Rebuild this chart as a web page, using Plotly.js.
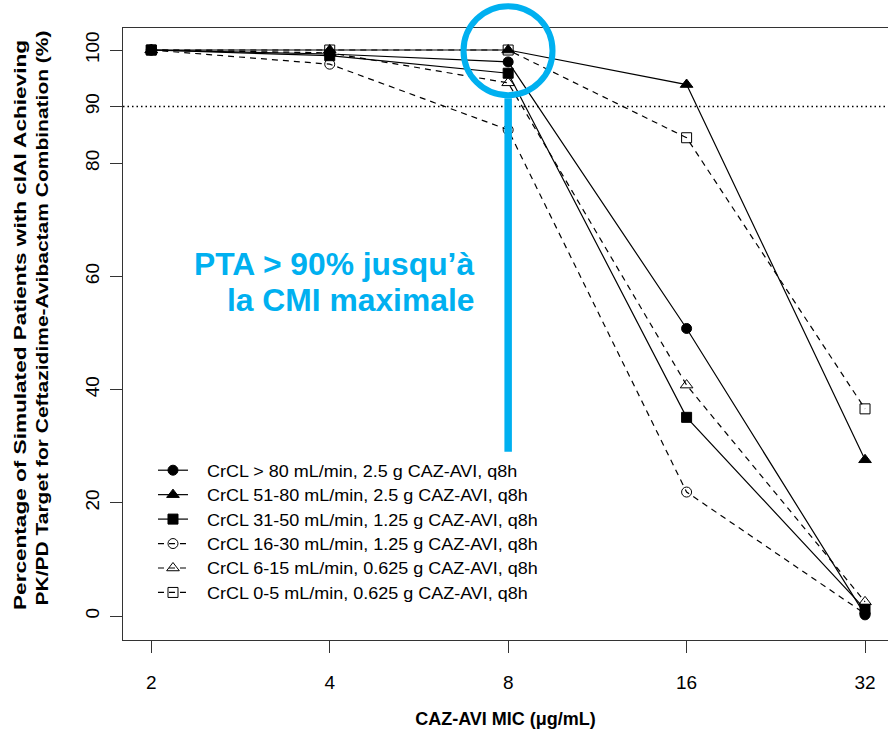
<!DOCTYPE html>
<html>
<head>
<meta charset="utf-8">
<script src="https://cdn.plot.ly/plotly-3.0.1.min.js"></script>
<style>html,body{margin:0;padding:0;background:#fff;overflow:hidden}#chart{width:888px;height:732px}</style>
</head>
<body>
<div id="chart"></div>
<script>
var mic = [2, 4, 8, 16, 32];
var micLabels = ['2', '4', '8', '16', '32'];
var seriesNames = [
  'CrCL > 80 mL/min, 2.5 g CAZ-AVI, q8h',
  'CrCL 51-80 mL/min, 2.5 g CAZ-AVI, q8h',
  'CrCL 31-50 mL/min, 1.25 g CAZ-AVI, q8h',
  'CrCL 16-30 mL/min, 1.25 g CAZ-AVI, q8h',
  'CrCL 6-15 mL/min, 0.625 g CAZ-AVI, q8h',
  'CrCL 0-5 mL/min, 0.625 g CAZ-AVI, q8h'
];
var crcl80plus = [100, 99.3, 97.9, 50.8, 0.2];
var crcl51to80 = [100, 100, 100, 93.9, 27.6];
var crcl31to50 = [100, 99.0, 95.9, 35.1, 1.2];
var crcl16to30 = [100, 97.5, 85.9, 21.9, 0.4];
var crcl6to15  = [100, 99.5, 94.2, 40.8, 2.5];
var crcl0to5   = [100, 100, 100, 84.5, 36.6];
var yTicks = [0, 20, 40, 60, 80, 90, 100];
var targetPTA = 90;
var highlightMIC = 8;

var arial = '"Liberation Sans", Arial, sans-serif';
var blue = '#00B0F0';

var styles = [
  {symbol: 'circle', size: 10, dash: 'solid'},
  {symbol: 'triangle-up', size: 11, dash: 'solid'},
  {symbol: 'square', size: 10, dash: 'solid'},
  {symbol: 'circle-open', size: 10, dash: '6px,5px'},
  {symbol: 'triangle-up-open', size: 11, dash: '6px,5px'},
  {symbol: 'square-open', size: 10, dash: '6px,5px'}
];
var allY = [crcl80plus, crcl51to80, crcl31to50, crcl16to30, crcl6to15, crcl0to5];

var traces = allY.map(function (ys, i) {
  return {
    x: mic, y: ys, name: seriesNames[i], type: 'scatter', mode: 'lines+markers',
    line: {color: '#000', width: 1.2, dash: styles[i].dash},
    marker: {symbol: styles[i].symbol, size: styles[i].size, color: '#000', line: {color: '#000', width: 1}}
  };
});

var layout = {
  width: 888, height: 732,
  margin: {l: 123, r: 0, t: 28, b: 92},
  paper_bgcolor: '#fff', plot_bgcolor: '#fff',
  showlegend: true,
  legend: {
    x: 0.0575, y: 0.3056, xanchor: 'left', yanchor: 'top',
    bgcolor: 'rgba(0,0,0,0)', borderwidth: 0,
    font: {family: arial, size: 16.5, color: '#000'},
    tracegroupgap: 0
  },
  xaxis: {
    type: 'log', range: [0.2533, 1.5439],
    tickmode: 'array', tickvals: mic, ticktext: micLabels,
    ticks: 'outside', ticklen: 12, tickwidth: 1, tickcolor: '#333',
    showline: true, linecolor: '#333', linewidth: 1.2, mirror: true,
    showgrid: false, zeroline: false, ticklabelstandoff: 13,
    tickfont: {family: arial, size: 19, color: '#000'},
    title: {text: '<b>CAZ-AVI MIC (\u03BCg/mL)</b>', font: {family: arial, size: 18, color: '#000'}, standoff: 20}
  },
  yaxis: {
    range: [-4.24, 103.89],
    tickmode: 'array', tickvals: yTicks,
    ticks: 'outside', ticklen: 12, tickwidth: 1, tickcolor: '#333',
    showline: true, linecolor: '#333', linewidth: 1.2, mirror: false,
    showgrid: false, zeroline: false, tickangle: -90, ticklabelstandoff: 3,
    tickfont: {family: arial, size: 19, color: '#000'},
    title: {text: '<b>Percentage of Simulated Patients with cIAI Achieving<br>PK/PD Target for Ceftazidime-Avibactam Combination (%)</b>',
            font: {family: arial, size: 17, color: '#000'}, standoff: 29}
  },
  shapes: [
    {type: 'line', xref: 'paper', yref: 'y', x0: 0, x1: 1, y0: targetPTA, y1: targetPTA,
     line: {color: '#000', width: 1.5, dash: '1.5px,3px'}, layer: 'below'},
    {type: 'circle', xref: 'paper', yref: 'paper', xsizemode: 'pixel', ysizemode: 'pixel',
     xanchor: 0.5033, yanchor: 0.963, x0: -44.5, x1: 44.5, y0: -44.5, y1: 44.5,
     line: {color: blue, width: 6}},
    {type: 'line', xref: 'x', yref: 'y', xsizemode: 'pixel', xanchor: highlightMIC, x0: -2, x1: -2,
     y0: 29, y1: 91.5, line: {color: blue, width: 7.5}}
  ],
  annotations: [
    {xref: 'paper', yref: 'paper', x: 0.4614, y: 0.6144, xanchor: 'right', yanchor: 'middle',
     text: '<b>PTA > 90% jusqu\u2019\u00E0</b>', showarrow: false,
     font: {family: arial, size: 31.8, color: blue}},
    {xref: 'paper', yref: 'paper', x: 0.4614, y: 0.5556, xanchor: 'right', yanchor: 'middle',
     text: '<b>la CMI maximale</b>', showarrow: false,
     font: {family: arial, size: 31.8, color: blue}}
  ]
};

Plotly.newPlot('chart', traces, layout, {displayModeBar: false, staticPlot: true}).then(function (gd) {
  function stretchTo(el, len) {
    el.setAttribute('textLength', len);
    el.setAttribute('lengthAdjust', 'spacingAndGlyphs');
  }
  var yt = gd.querySelector('.g-ytitle text');
  if (yt) {
    var lines = yt.querySelectorAll('tspan.line');
    var targets = [570, 575];
    var shifts = [9, 16];
    for (var i = 0; i < lines.length && i < targets.length; i++) {
      stretchTo(lines[i], targets[i]);
      lines[i].setAttribute('dx', shifts[i]);
    }
  }
  var sb = gd.querySelector('.legend .scrollbox');
  if (sb) sb.removeAttribute('clip-path');
  var lt = gd.querySelectorAll('.legendtext');
  for (var j = 0; j < lt.length; j++) {
    stretchTo(lt[j], lt[j].getComputedTextLength() * 1.09);
  }
  var ly = gd.querySelectorAll('.legend .traces .layers');
  for (var k = 0; k < ly.length; k++) {
    var t = ly[k].getAttribute('transform') || '';
    ly[k].setAttribute('transform', 'translate(-14,0) ' + t);
  }
});
</script>
</body>
</html>
